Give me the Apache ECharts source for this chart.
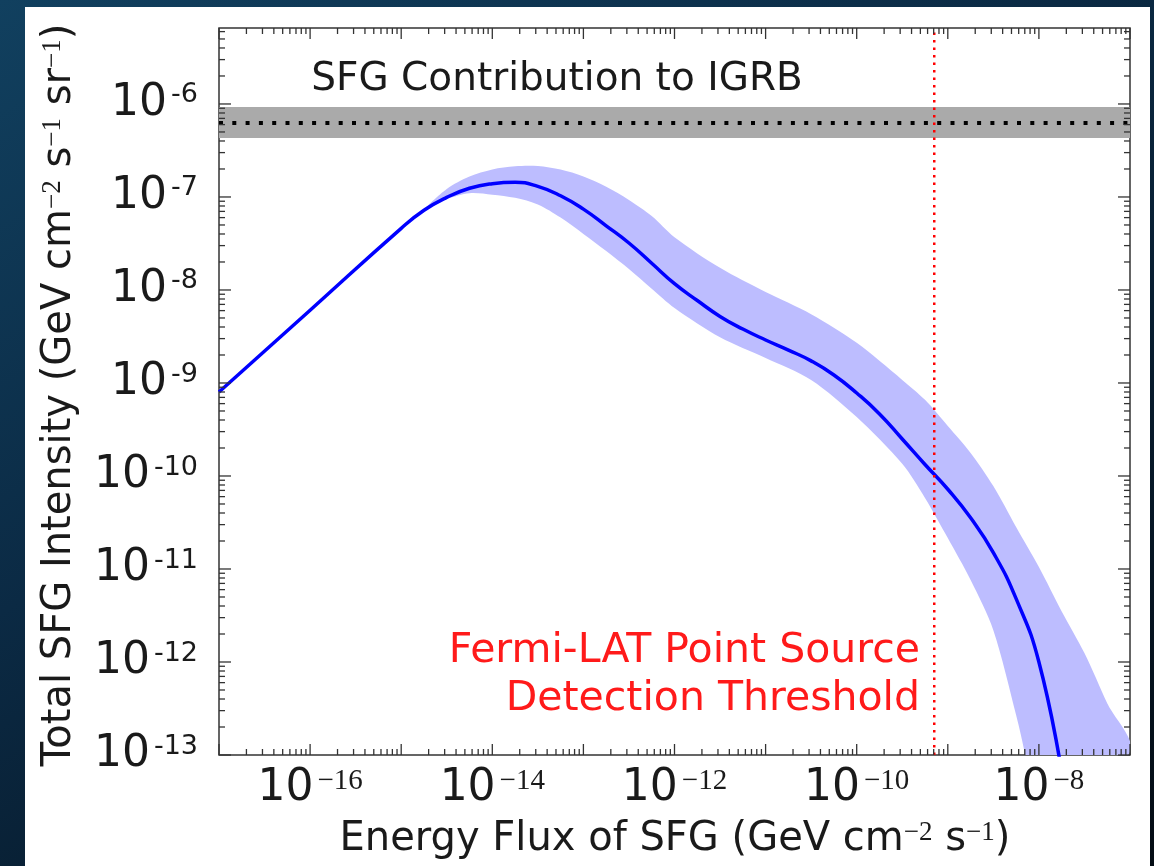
<!DOCTYPE html>
<html><head><meta charset="utf-8">
<script src="https://cdn.jsdelivr.net/npm/echarts@6/dist/echarts.min.js"></script>
<style>
html,body{margin:0;padding:0;width:1154px;height:866px;overflow:hidden;
background:linear-gradient(150deg,#11405f 0%,#0b2a44 40%,#071a2b 70%,#040c14 100%);}
#panel{position:absolute;left:25px;top:7px;width:1125px;height:859px;background:#fff;}
#chart{position:absolute;left:0;top:0;width:1154px;height:866px;}
</style></head><body>
<div id="panel"></div><div id="chart"></div>
<script>
// ---- data ----
const fluxLine = [1e-17, 1e-16, 1e-15, 1.78e-15, 3.16e-15, 5.62e-15, 1e-14, 1.78e-14, 3.16e-14, 5.62e-14, 1e-13, 1.78e-13, 3.16e-13, 5.62e-13, 1e-12, 1.78e-12, 3.16e-12, 5.62e-12, 1e-11, 1.78e-11, 3.16e-11, 5.62e-11, 1e-10, 1.78e-10, 3.16e-10, 5.62e-10, 1e-9, 1.78e-9, 3.16e-9, 5.62e-9, 1e-8, 1.78e-8];
const intensityLine = [8.0e-10, 6.05e-9, 4.6e-8, 7.2e-8, 9.9e-8, 1.24e-7, 1.39e-7, 1.44e-7, 1.30e-7, 1.03e-7, 7.4e-8, 4.9e-8, 3.2e-8, 1.94e-8, 1.17e-8, 7.7e-9, 5.2e-9, 3.8e-9, 2.9e-9, 2.26e-9, 1.73e-9, 1.22e-9, 7.8e-10, 4.65e-10, 2.5e-10, 1.33e-10, 7.2e-11, 3.55e-11, 1.5e-11, 4.8e-12, 1.0e-12, 6.5e-14];

const bandUpperFlux = [1.78e-15, 3.16e-15, 5.62e-15, 1e-14, 1.78e-14, 3.16e-14, 5.62e-14, 1e-13, 1.78e-13, 3.16e-13, 5.62e-13, 1e-12, 3.16e-12, 1e-11, 3.16e-11, 1e-10, 3.16e-10, 5.62e-10, 1e-9, 1.78e-9, 3.16e-9, 5.62e-9, 1e-8, 1.78e-8, 3.16e-8, 5.62e-8, 1e-7];
const bandUpper = [7.2e-8, 1.22e-7, 1.66e-7, 1.98e-7, 2.14e-7, 2.15e-7, 1.97e-7, 1.66e-7, 1.29e-7, 9.3e-8, 6.25e-8, 3.7e-8, 1.73e-8, 9.5e-9, 5.5e-9, 2.7e-9, 1.08e-9, 6.6e-10, 3.45e-10, 1.77e-10, 7.8e-11, 2.83e-11, 1.05e-11, 3.5e-12, 1.25e-12, 3.6e-13, 1.08e-13];

const bandLowerFlux = [1.78e-15, 3.16e-15, 5.62e-15, 1e-14, 1.78e-14, 3.16e-14, 5.62e-14, 1e-13, 1.78e-13, 3.16e-13, 5.62e-13, 1e-12, 3.16e-12, 1e-11, 3.16e-11, 1e-10, 3.16e-10, 5.62e-10, 1e-9, 1.78e-9, 3.16e-9, 5.62e-9, 7.08e-9, 1e-8];
const bandLower = [7.2e-8, 9.5e-8, 1.1e-7, 1.06e-7, 9.8e-8, 8.3e-8, 6.0e-8, 4.0e-8, 2.62e-8, 1.68e-8, 1.03e-8, 6.4e-9, 3.1e-9, 1.86e-9, 1.08e-9, 4.3e-10, 1.35e-10, 5.8e-11, 2.15e-11, 7.6e-12, 2.2e-12, 2.7e-13, 1e-13, 1.6e-14];

const igrbLow = 4.3e-7, igrbMid = 6.25e-7, igrbHigh = 9.3e-7;
const thresholdFlux = 7.1e-10;

const xRange = [1e-17, 1e-7];
const yRange = [1e-13, 6.56e-6];
const xLabelExps = [-16, -14, -12, -10, -8];
const yLabelExps = [-13, -12, -11, -10, -9, -8, -7, -6];

const titleText = 'SFG Contribution to IGRB';
const thresholdText = ['Fermi-LAT Point Source', 'Detection Threshold'];

// ---- helpers ----
const SANS = 'DejaVu Sans';
const SERIF = 'Liberation Serif';
const INK = '#1a1a1a';
function expOf(v) {
  if (!(v > 0)) return null;
  const l = Math.log10(v); const e = Math.round(l);
  return Math.abs(l - e) < 0.01 ? e : null;
}
function pairs(xs, ys) { return xs.map((x, i) => [x, ys[i]]); }

const chart = echarts.init(document.getElementById('chart'), null, {renderer: 'canvas'});

function ticksRender(params, api) {
  const cs = params.coordSys;
  const ch = [];
  const sty = {stroke: '#333', lineWidth: 1.3};
  const bottom = cs.y + cs.height, top = cs.y, left = cs.x, right = cs.x + cs.width;
  const lx0 = Math.floor(Math.log10(xRange[0])), lx1 = Math.ceil(Math.log10(xRange[1]));
  for (let e = lx0; e <= lx1; e++) {
    for (let k = 1; k <= 9; k++) {
      const v = k * Math.pow(10, e);
      if (v < xRange[0] * 0.9999 || v > xRange[1] * 1.0001) continue;
      const px = api.coord([v, yRange[0]])[0];
      const len = k === 1 ? 11 : 6;
      ch.push({type: 'line', shape: {x1: px, y1: bottom, x2: px, y2: bottom - len}, style: sty});
      ch.push({type: 'line', shape: {x1: px, y1: top, x2: px, y2: top + len}, style: sty});
    }
  }
  // x tick labels (10^n, mathtext style)
  xLabelExps.forEach(function (e) {
    const px = api.coord([Math.pow(10, e), yRange[0]])[0];
    ch.push({type: 'text', x: px, y: bottom + 12, silent: true,
      style: {text: '{b|10}{s|\u2212' + Math.abs(e) + '}', align: 'center', verticalAlign: 'top',
        rich: {
          b: {fontFamily: SANS, fontSize: 44, lineHeight: 44, fill: INK, color: INK},
          s: {fontFamily: SERIF, fontSize: 29, lineHeight: 30, fill: INK, color: INK, verticalAlign: 'top', padding: [0, 0, 0, 4]}
        }}});
  });
  const ly0 = Math.floor(Math.log10(yRange[0])), ly1 = Math.ceil(Math.log10(yRange[1]));
  for (let e = ly0; e <= ly1; e++) {
    for (let k = 1; k <= 9; k++) {
      const v = k * Math.pow(10, e);
      if (v < yRange[0] * 0.9999 || v > yRange[1] * 1.0001) continue;
      const py = api.coord([xRange[0], v])[1];
      const len = k === 1 ? 12 : 6;
      ch.push({type: 'line', shape: {x1: left, y1: py, x2: left + len, y2: py}, style: sty});
      ch.push({type: 'line', shape: {x1: right, y1: py, x2: right - len, y2: py}, style: sty});
    }
  }
  return {type: 'group', children: ch};
}

function bandRender(params, api) {
  const cs = params.coordSys;
  const up = bandUpperFlux.map((x, i) => api.coord([x, bandUpper[i]]));
  const lo = bandLowerFlux.map((x, i) => api.coord([x, bandLower[i]])).reverse();
  return {
    type: 'polygon',
    shape: {points: up.concat(lo.slice(0, lo.length - 1)), smooth: 0.3},
    style: {fill: '#bdbdff', stroke: null},
    clipPath: {type: 'rect', shape: {x: cs.x, y: cs.y, width: cs.width, height: cs.height}}
  };
}

function igrbRender(params, api) {
  const p1 = api.coord([xRange[0], igrbHigh]);
  const p2 = api.coord([xRange[1], igrbLow]);
  return {type: 'rect', shape: {x: p1[0], y: p1[1], width: p2[0] - p1[0], height: p2[1] - p1[1]},
          style: {fill: '#aaaaaa'}};
}

const option = {
  animation: false,
  backgroundColor: 'transparent',
  grid: {left: 219, right: 24, top: 28, bottom: 111, show: true,
         borderColor: '#333', borderWidth: 1.5, backgroundColor: 'transparent'},
  xAxis: {
    type: 'log', logBase: 10, min: xRange[0], max: xRange[1], splitNumber: 5,
    axisLine: {show: false}, axisTick: {show: false}, splitLine: {show: false},
    axisLabel: {show: false}
  },
  yAxis: {
    type: 'log', logBase: 10, min: yRange[0], max: yRange[1], splitNumber: 8,
    axisLine: {show: false}, axisTick: {show: false}, splitLine: {show: false},
    axisLabel: {
      margin: 21, hideOverlap: false,
      formatter: function (v) {
        const e = expOf(v);
        if (e === null || yLabelExps.indexOf(e) < 0) return '';
        return '{b|10}{s|-' + Math.abs(e) + '}';
      },
      rich: {
        b: {fontFamily: SANS, fontSize: 44, lineHeight: 44, color: INK},
        s: {fontFamily: SANS, fontSize: 27, lineHeight: 20, color: INK, verticalAlign: 'top', padding: [0, 0, 0, 4]}
      }
    }
  },
  series: [
    {type: 'custom', name: 'IGRB band', renderItem: igrbRender, data: [[xRange[0], igrbMid]], z: 1, silent: true},
    {type: 'line', name: 'IGRB', data: [[xRange[0], igrbMid], [xRange[1], igrbMid]], symbol: 'none', z: 2,
     lineStyle: {color: '#000', width: 4, type: [4, 9.3], cap: 'butt'}, silent: true},
    {type: 'custom', name: 'SFG band', renderItem: bandRender, data: [[xRange[0], yRange[0]]], z: 3, silent: true, clip: true},
    {type: 'line', name: 'SFG', data: pairs(fluxLine, intensityLine), symbol: 'none', smooth: 0.5, z: 4, clip: true,
     lineStyle: {color: '#0000ff', width: 3.5}, silent: true},
    {type: 'line', name: 'Threshold', data: [[thresholdFlux, yRange[0]], [thresholdFlux, yRange[1]]], symbol: 'none', z: 5,
     lineStyle: {color: '#ff0000', width: 2.5, type: [2.5, 5]}, silent: true},
    {type: 'custom', name: 'ticks', renderItem: ticksRender, data: [[xRange[0], yRange[0]]], z: 6, silent: true, clip: false}
  ],
  graphic: [
    {type: 'text', x: 557, y: 80, silent: true,
     style: {text: titleText, fontFamily: SANS, fontSize: 39, fill: INK, align: 'center', verticalAlign: 'middle'}},
    {type: 'text', x: 920, y: 651, silent: true,
     style: {text: thresholdText[0], fontFamily: SANS, fontSize: 41, fill: '#ff1a1a', align: 'right', verticalAlign: 'middle'}},
    {type: 'text', x: 920, y: 699, silent: true,
     style: {text: thresholdText[1], fontFamily: SANS, fontSize: 41, fill: '#ff1a1a', align: 'right', verticalAlign: 'middle'}},
    {type: 'text', x: 675, y: 840, silent: true,
     style: {text: '{t|Energy Flux of SFG (GeV cm}{s|\u22122}{t| s}{s|\u22121}{t|)}', align: 'center', verticalAlign: 'middle',
       rich: {t: {fontFamily: SANS, fontSize: 40, lineHeight: 42, fill: INK},
              s: {fontFamily: SERIF, fontSize: 27, lineHeight: 22, fill: INK, verticalAlign: 'top'}}}},
    {type: 'text', x: 60, y: 395, rotation: Math.PI / 2, silent: true,
     style: {text: '{t|Total SFG Intensity (GeV cm}{s|\u22122}{t| s}{s|\u22121}{t| sr}{s|\u22121}{t|)}', align: 'center', verticalAlign: 'middle',
       rich: {t: {fontFamily: SANS, fontSize: 40, lineHeight: 42, fill: INK},
              s: {fontFamily: SERIF, fontSize: 27, lineHeight: 22, fill: INK, verticalAlign: 'top'}}}}
  ]
};
chart.setOption(option);
</script>
</body></html>
